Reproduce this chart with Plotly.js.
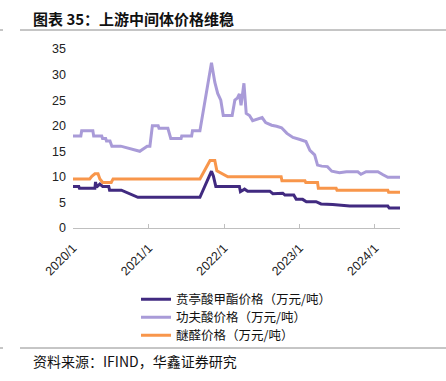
<!DOCTYPE html>
<html>
<head>
<meta charset="utf-8">
<script src="https://cdn.plot.ly/plotly-3.0.1.min.js"></script>
<style>html,body{margin:0;padding:0;background:#fff;}#chart{width:446px;height:381px;}</style>
</head>
<body>
<div id="chart"></div>
<script>
// 贲亭酸甲酯价格（万元/吨）
const benDates = ['2020-01-01','2020-01-29','2020-02-01','2020-04-16','2020-04-19','2020-04-24','2020-05-10','2020-05-24','2020-06-22','2020-06-26','2020-08-22','2020-11-10','2021-09-06','2021-11-01','2021-11-10','2021-11-22','2022-03-16','2022-03-21','2022-04-10','2022-04-25','2022-08-10','2022-08-25','2022-10-12','2022-10-22','2022-12-04','2022-12-16','2023-01-16','2023-02-03','2023-03-22','2023-04-15','2023-06-10','2023-09-01','2024-03-03','2024-03-10','2024-05-01'];
const benVals  = [8.1,8.1,7.75,7.75,9.0,8.0,8.6,8.1,8.1,7.4,7.4,6.0,6.0,11.1,10.2,8.1,8.1,7.1,7.6,7.2,7.2,6.7,6.8,6.45,6.45,5.6,5.6,5.15,5.15,4.7,4.6,4.3,4.3,3.9,3.9];

// 功夫酸价格（万元/吨）
const gfDates = ['2020-01-01','2020-02-08','2020-02-12','2020-04-06','2020-04-10','2020-05-19','2020-05-23','2020-06-07','2020-06-11','2020-06-28','2020-07-07','2020-08-19','2020-11-19','2020-12-10','2020-12-25','2021-01-07','2021-01-19','2021-02-16','2021-02-20','2021-04-04','2021-04-18','2021-06-07','2021-06-10','2021-07-28','2021-08-01','2021-09-06','2021-11-01','2021-11-17','2021-12-01','2021-12-16','2021-12-28','2022-02-09','2022-02-22','2022-03-06','2022-03-16','2022-03-24','2022-04-07','2022-04-18','2022-05-04','2022-05-19','2022-06-12','2022-07-04','2022-07-21','2022-08-19','2022-09-12','2022-10-06','2022-11-01','2022-11-30','2023-01-03','2023-02-01','2023-02-20','2023-03-15','2023-03-29','2023-04-18','2023-05-16','2023-06-06','2023-07-13','2023-08-16','2023-10-10','2023-10-25','2023-11-19','2024-01-15','2024-02-09','2024-03-03','2024-05-01'];
const gfVals  = [18,18,19,19,18,18,17.5,17.5,17,17,16,16,15,15.5,16,16,20,20,19.5,19.5,17.5,17.5,18,18,19,19,32.3,28.5,26.3,25,22,22,25,25.4,26.2,24,28.3,22.4,22,21,21.3,21.6,20.6,20.1,19.9,19.6,18.5,17.7,17.3,16.9,15.2,14.3,12.3,12.1,12,11.1,10.8,11,11,10.5,11,11,10.4,9.9,9.9];

// 醚醛价格（万元/吨）
const mqDates = ['2020-01-01','2020-03-22','2020-04-01','2020-04-16','2020-05-01','2020-05-10','2020-05-24','2020-07-04','2020-07-13','2021-09-06','2021-10-25','2021-11-17','2021-11-27','2021-12-21','2022-01-19','2022-10-04','2022-10-08','2023-01-27','2023-01-31','2023-03-29','2023-04-02','2023-06-27','2023-07-01','2024-03-03','2024-03-07','2024-05-01'];
const mqVals  = [9.6,9.6,10.1,10.6,10.6,9.6,8.9,8.9,9.6,9.6,13.2,13.2,11.2,10.6,10.0,10.0,9.25,9.25,8.9,8.9,7.75,7.75,7.4,7.4,7.0,7.0];

const seriesNames = ['贲亭酸甲酯价格（万元/吨）','功夫酸价格（万元/吨）','醚醛价格（万元/吨）'];
const tickVals = ['2020-01-01','2021-01-01','2022-01-01','2023-01-01','2024-01-01'];
const tickText = ['2020/1','2021/1','2022/1','2023/1','2024/1'];

const cjk = '"Noto Sans CJK SC", "Liberation Sans", sans-serif';
const lat = '"Liberation Sans", Arial, sans-serif';

const traces = [
  {x: benDates, y: benVals, name: seriesNames[0], legend:'legend', type:'scatter', mode:'lines', line:{color:'#412a80', width:3}},
  {x: gfDates, y: gfVals, name: seriesNames[1], legend:'legend2', type:'scatter', mode:'lines', line:{color:'#a99bd8', width:3}},
  {x: mqDates, y: mqVals, name: seriesNames[2], legend:'legend3', type:'scatter', mode:'lines', line:{color:'#f8964b', width:3}}
];

// helpers for paper coords from pixels
const L=73, T=49, W=327, H=179;
const px = v => (v - L)/W;
const py = v => (T + H - v)/H;

const legFont = {family: cjk, size: 12.5, color:'#111'};
const mkLeg = yy => ({x: px(136), y: py(yy), xanchor:'left', yanchor:'middle', font: legFont, bgcolor:'rgba(0,0,0,0)'});

const layout = {
  width: 446, height: 381,
  margin: {l: L, r: 446-L-W, t: T, b: 381-T-H, autoexpand: false},
  paper_bgcolor:'#fff', plot_bgcolor:'#fff',
  showlegend: true,
  legend: mkLeg(299.5),
  legend2: mkLeg(317.5),
  legend3: mkLeg(335.5),
  xaxis: {type:'date', range:['2020-01-01','2024-05-01'], tickvals: tickVals, ticktext: tickText, automargin:false,
          tickangle: -45, ticks:'inside', ticklen: 4, tickcolor:'#bfbfbf', showline:true, linecolor:'#bfbfbf',
          linewidth:1, showgrid:false, zeroline:false, ticklabelstandoff: 7, tickfont:{family: lat, size: 12.5, color:'#222'}},
  yaxis: {range:[0,35], dtick:5, tick0:0, showgrid:false, zeroline:false, showline:false, ticks:'', automargin:false,
          ticklabelstandoff: 6, tickfont:{family: lat, size: 12.5, color:'#222'}},
  shapes: [
    {type:'line', xref:'paper', yref:'paper', x0: px(20), x1: px(446), y0: py(30), y1: py(30), line:{color:'#8c8c8c', width:1}},
    {type:'line', xref:'paper', yref:'paper', x0: px(0), x1: px(3), y0: py(30), y1: py(30), line:{color:'#8c8c8c', width:1}},
    {type:'line', xref:'paper', yref:'paper', x0: px(20), x1: px(446), y0: py(348), y1: py(348), line:{color:'#8c8c8c', width:1}},
    {type:'line', xref:'paper', yref:'paper', x0: px(0), x1: px(3), y0: py(348), y1: py(348), line:{color:'#8c8c8c', width:1}}
  ],
  annotations: [
    {text:'<b>图表 35：上游中间体价格维稳</b>', xref:'paper', yref:'paper', x: px(31), y: py(18), xanchor:'left', yanchor:'middle',
     showarrow:false, font:{family: cjk, size: 15, color:'#111'}},
    {text:'资料来源：IFIND，华鑫证券研究', xref:'paper', yref:'paper', x: px(31), y: py(361), xanchor:'left', yanchor:'middle',
     showarrow:false, font:{family: cjk, size: 14, color:'#111'}}
  ]
};

Plotly.newPlot('chart', traces, layout, {displayModeBar:false, staticPlot:true});
</script>
</body>
</html>
